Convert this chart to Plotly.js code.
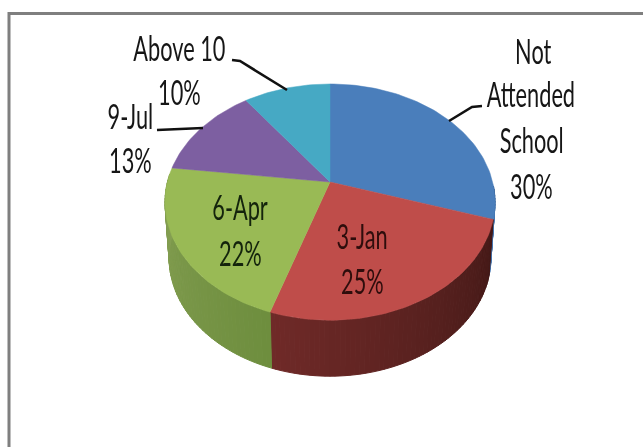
<!DOCTYPE html>
<html>
<head>
<meta charset="utf-8">
<script src="https://cdn.plot.ly/plotly-3.0.1.min.js"></script>
<style>
html,body{margin:0;padding:0;background:#fff}
#chart{width:643px;height:447px;filter:blur(0.5px)}
#chart .annotation text{transform-box:fill-box;transform-origin:center;transform:scale(0.75,1.2)}
</style>
</head>
<body>
<div id="chart"></div>
<script>
// Data
var categories = ["Not Attended School", "3-Jan", "6-Apr", "9-Jul", "Above 10"];
var values = [30, 25, 22, 13, 10];
var labelLines = [["Not", "Attended", "School", "30%"], ["3-Jan", "25%"], ["6-Apr", "22%"], ["9-Jul", "13%"], ["Above 10", "10%"]];

// Styling
var topColors = ["#4a7ebb", "#bf4d4a", "#99ba55", "#7d5fa1", "#46a9c4"];
var sideLight = [[74,126,187], [112,42,40], [134,160,84], [125,95,161], [70,169,196]];
var sideDark  = [[50,90,140], [68,25,23], [110,142,62], [90,70,120], [50,120,140]];
var textColors = ["#161616", "#2e0d0c", "#14240c", "#161616", "#161616"];
var labelPos = [
  [[533,50],[531,93],[531,139],[531,185]],
  [[362,235],[362,280]],
  [[240,206],[240,252]],
  [[130,115],[130,159]],
  [[179,47],[179,91]]
];
var leaders = [
  {x:[449,472,482], y:[121,107,106]},
  null, null,
  {x:[157,203], y:[130,128]},
  {x:[232,240,287], y:[60,61,90]}
];

// Tilted pie projection: apex, radii, perspective
var cx = 330, cy = 182, B = 162.6, A = 114.7, k = 0.17, depth = 56, rimScale = 0.975;
function project(deg) {
  var t = deg * Math.PI / 180, s = Math.sin(t), c = Math.cos(t), d = 1 + k * c;
  return [cx + B * s / d, cy - A * c / d];
}
function rim(p) { return [cx + (p[0] - cx) * rimScale, p[1] + depth]; }
var total = values.reduce(function (a, b) { return a + b; }, 0);
var traces = [];
function poly(xs, ys, color) {
  traces.push({type: "scatter", mode: "lines", x: xs, y: ys, fill: "toself", fillcolor: color,
    line: {color: color, width: 1}, hoverinfo: "skip", showlegend: false});
}
var start = 0, bounds = [];
values.forEach(function (v) { bounds.push([start, start + v / total * 360]); start += v / total * 360; });

// Side wall (only the part facing the viewer)
values.forEach(function (v, i) {
  var a0 = Math.max(bounds[i][0], 92), a1 = Math.min(bounds[i][1], 274);
  if (a1 <= a0) return;
  var n = Math.ceil((a1 - a0) / 1.5);
  for (var j = 0; j < n; j++) {
    var f0 = a0 + (a1 - a0) * j / n, f1 = a0 + (a1 - a0) * (j + 1) / n;
    var p0 = project(f0), p1 = project(f1), q0 = rim(p0), q1 = rim(p1);
    var w = j / n; // darker towards the right-hand side of each slice
    var l = sideLight[i], d = sideDark[i];
    var col = "rgb(" + [0,1,2].map(function (q) { return Math.round(d[q] + (l[q] - d[q]) * w); }).join(",") + ")";
    poly([p0[0], p1[0], q1[0], q0[0], p0[0]], [p0[1], p1[1], q1[1], q0[1], p0[1]], col);
  }
});

// Top faces
values.forEach(function (v, i) {
  var xs = [cx], ys = [cy];
  for (var a = bounds[i][0]; a < bounds[i][1]; a += 1.5) { var p = project(a); xs.push(p[0]); ys.push(p[1]); }
  var e = project(bounds[i][1]); xs.push(e[0], cx); ys.push(e[1], cy);
  traces.push({type: "scatter", mode: "lines", x: xs, y: ys, fill: "toself", fillcolor: topColors[i],
    line: {color: topColors[i], width: 0.5}, name: categories[i], text: categories[i] + " " + v + "%",
    hoverinfo: "text", showlegend: false});
});

// Leader lines
leaders.forEach(function (l) {
  if (!l) return;
  traces.push({type: "scatter", mode: "lines", x: l.x, y: l.y, line: {color: "#111", width: 2.6},
    hoverinfo: "skip", showlegend: false});
});

// Labels
var annotations = [];
labelLines.forEach(function (lines, i) {
  lines.forEach(function (t, j) {
    annotations.push({x: labelPos[i][j][0], y: labelPos[i][j][1], xref: "x", yref: "y", text: t, showarrow: false,
      xanchor: "center", yanchor: "middle",
      font: {family: "Lato, sans-serif", size: 29, color: textColors[i]}});
  });
});

var layout = {
  width: 643, height: 447,
  margin: {l: 0, r: 0, t: 0, b: 0},
  paper_bgcolor: "#fff", plot_bgcolor: "#fff",
  xaxis: {range: [0, 643], visible: false, fixedrange: true},
  yaxis: {range: [447, 0], visible: false, fixedrange: true},
  annotations: annotations,
  shapes: [
    {type: "line", xref: "x", yref: "y", x0: 9, x1: 643, y0: 13.5, y1: 13.5, line: {color: "#7f7f7f", width: 3}},
    {type: "line", xref: "x", yref: "y", x0: 9, x1: 9, y0: 12, y1: 447, line: {color: "#7f7f7f", width: 3}}
  ]
};
Plotly.newPlot("chart", traces, layout, {displayModeBar: false});
</script>
</body>
</html>
